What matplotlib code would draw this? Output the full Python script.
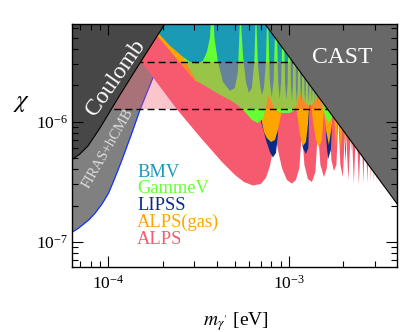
import numpy as np
import matplotlib
matplotlib.use('Agg')
import matplotlib.pyplot as plt
from matplotlib.ticker import LogLocator, NullFormatter

plt.rcParams['font.family'] = ['Liberation Serif', 'DejaVu Serif']
plt.rcParams['mathtext.fontset'] = 'stix'

# ---------------- data ----------------
xlim = (6.3e-5, 3.95e-3)
ylim = (6.2e-8, 6.5e-6)

coulomb_m = [5.40e-5, 6.34e-5, 6.97e-5, 7.72e-5, 9.00e-5, 1.161e-4, 1.498e-4, 2.059e-4, 2.339e-4]
coulomb_chi = [4.36e-7, 4.86e-7, 5.38e-7, 6.27e-7, 8.86e-7, 1.669e-6, 3.08e-6, 6.52e-6, 8.86e-6]

firas_m = [5.40e-5, 6.34e-5, 6.86e-5, 7.79e-5, 8.47e-5, 9.23e-5, 1.005e-4, 1.089e-4, 1.191e-4,
           1.352e-4, 1.498e-4, 1.739e-4, 1.932e-4, 2.196e-4, 2.493e-4]
firas_chi = [1.033e-7, 1.205e-7, 1.301e-7, 1.517e-7, 1.734e-7, 2.06e-7, 2.55e-7, 3.40e-7, 4.80e-7,
             8.05e-7, 1.252e-6, 2.184e-6, 3.27e-6, 5.28e-6, 8.53e-6]

cast_m = [5.0e-4, 5.0e-3]
cast_chi = [1.44e-5, 1.29e-7]

band_chi = [1.276e-6, 3.145e-6]

bmv_m = [1.498e-4, 1.701e-4, 1.932e-4, 2.196e-4, 2.591e-4, 2.833e-4, 3.096e-4, 3.343e-4, 3.517e-4,
         3.655e-4, 3.773e-4,
         3.871e-4, 4.047e-4, 4.313e-4, 4.716e-4, 5.027e-4, 5.223e-4, 5.330e-4, 5.392e-4,
         5.460e-4, 5.565e-4, 5.781e-4, 6.006e-4, 6.240e-4, 6.442e-4, 6.509e-4, 6.567e-4,
         6.634e-4, 6.737e-4, 6.955e-4, 7.089e-4, 7.272e-4, 7.460e-4, 7.546e-4, 7.603e-4,
         7.70e-4, 7.83e-4, 8.03e-4, 8.24e-4, 8.38e-4, 8.49e-4,
         8.59e-4, 8.72e-4, 8.89e-4, 9.06e-4, 9.20e-4, 9.30e-4,
         9.40e-4, 9.52e-4, 9.68e-4, 9.84e-4, 9.95e-4, 1.005e-3,
         1.014e-3, 1.026e-3, 1.039e-3, 1.052e-3, 1.065e-3, 1.074e-3,
         1.082e-3, 1.093e-3, 1.106e-3, 1.119e-3, 1.130e-3, 1.139e-3,
         1.146e-3, 1.158e-3, 1.170e-3, 1.182e-3, 1.194e-3, 1.2015e-3,
         1.209e-3, 1.218e-3, 1.229e-3, 1.240e-3, 1.251e-3, 1.259e-3,
         1.266e-3, 1.2755e-3, 1.287e-3, 1.2986e-3, 1.3085e-3, 1.315e-3,
         1.322e-3, 1.330e-3, 1.3405e-3, 1.351e-3, 1.361e-3, 1.368e-3,
         1.375e-3, 1.384e-3, 1.3927e-3, 1.4016e-3, 1.412e-3, 1.4195e-3,
         1.427e-3, 1.436e-3, 1.445e-3, 1.454e-3, 1.464e-3, 1.471e-3,
         1.477e-3, 1.486e-3, 1.494e-3, 1.501e-3, 1.513e-3, 1.519e-3,
         1.524e-3, 1.534e-3, 1.542e-3, 1.550e-3, 1.560e-3, 1.566e-3,
         4.2e-3]
bmv_chi = [1.517e-5, 6.77e-6, 5.28e-6, 4.28e-6, 3.46e-6, 3.145e-6, 3.03e-6, 3.21e-6, 3.81e-6,
           4.98e-6, 1.137e-5,
           4.98e-6, 3.145e-6, 2.143e-6, 1.802e-6, 1.910e-6, 2.60e-6, 5.81e-6, 1.137e-5,
           5.81e-6, 3.60e-6, 2.143e-6, 1.734e-6, 1.910e-6, 3.27e-6, 5.81e-6, 1.137e-5,
           5.81e-6, 2.97e-6, 1.910e-6, 1.669e-6, 1.910e-6, 3.145e-6, 5.81e-6, 1.137e-5,
           5.81e-6, 2.226e-6, 1.576e-6, 2.226e-6, 5.81e-6, 1.137e-5,
           5.81e-6, 2.143e-6, 1.546e-6, 2.143e-6, 5.81e-6, 1.137e-5,
           5.81e-6, 2.061e-6, 1.517e-6, 2.061e-6, 5.81e-6, 1.137e-5,
           5.81e-6, 1.984e-6, 1.488e-6, 1.984e-6, 5.81e-6, 1.137e-5,
           5.81e-6, 1.910e-6, 1.460e-6, 1.910e-6, 5.81e-6, 1.137e-5,
           5.81e-6, 1.910e-6, 1.460e-6, 1.910e-6, 5.81e-6, 1.137e-5,
           5.81e-6, 1.837e-6, 1.432e-6, 1.837e-6, 5.81e-6, 1.137e-5,
           5.81e-6, 1.837e-6, 1.432e-6, 1.837e-6, 5.81e-6, 1.137e-5,
           5.81e-6, 1.837e-6, 1.432e-6, 1.837e-6, 5.81e-6, 1.137e-5,
           5.81e-6, 1.768e-6, 1.405e-6, 1.768e-6, 5.81e-6, 1.137e-5,
           5.81e-6, 1.768e-6, 1.405e-6, 1.768e-6, 5.81e-6, 1.137e-5,
           5.81e-6, 1.768e-6, 1.405e-6, 1.768e-6, 5.81e-6, 1.137e-5,
           5.81e-6, 1.768e-6, 1.405e-6, 1.768e-6, 5.81e-6, 1.137e-5,
           1.137e-5]

gammev_m = [1.813e-4, 2.059e-4, 2.339e-4, 2.591e-4, 2.833e-4, 3.096e-4, 3.896e-4, 5.027e-4, 5.709e-4,
            6.240e-4, 6.737e-4, 7.180e-4, 7.460e-4, 7.653e-4, 7.952e-4, 8.368e-4, 9.150e-4, 1.0127e-3,
            1.0795e-3, 1.1217e-3, 1.1503e-3, 1.1952e-3, 1.2739e-3, 1.3576e-3, 1.4286e-3, 1.4656e-3,
            1.5227e-3, 1.6022e-3, 1.6645e-3, 1.7296e-3, 1.7970e-3, 1.8431e-3, 4.2e-3]
gammev_chi = [1.517e-5, 7.04e-6, 4.80e-6, 3.46e-6, 2.70e-6, 2.184e-6, 1.768e-6, 1.432e-6, 1.205e-6,
              1.033e-6, 9.75e-7, 1.053e-6, 1.301e-6, 1.669e-6, 1.517e-6, 1.252e-6, 1.182e-6, 1.182e-6,
              1.252e-6, 1.517e-6, 1.768e-6, 1.517e-6, 1.352e-6, 1.405e-6, 1.576e-6, 1.768e-6,
              1.378e-6, 1.074e-6, 9.75e-7, 1.074e-6, 1.517e-6, 1.837e-6, 1.837e-6]

lipss_m = [3.218e-4, 6.737e-4, 7.460e-4, 7.851e-4, 8.157e-4, 8.474e-4, 8.694e-4, 8.919e-4, 1.0388e-3,
           1.1503e-3, 1.1952e-3, 1.2417e-3, 1.2820e-3, 1.2984e-3, 1.3150e-3, 1.5708e-3, 1.6022e-3,
           1.6434e-3, 1.7077e-3, 1.7517e-3, 1.7743e-3, 1.9896e-3, 2.0543e-3, 2.1343e-3, 3.0183e-3,
           3.0687e-3, 3.1280e-3, 4.2e-3]
lipss_chi = [1.517e-5, 1.252e-6, 7.04e-7, 5.59e-7, 5.03e-7, 5.48e-7, 7.75e-7, 3.27e-6, 3.27e-6,
             8.53e-7, 6.04e-7, 5.38e-7, 6.04e-7, 1.517e-6, 3.27e-6, 3.27e-6, 7.75e-7,
             4.80e-7, 5.81e-7, 1.517e-6, 3.27e-6, 3.27e-6, 4.53e-7, 3.27e-6, 3.27e-6,
             4.19e-7, 3.27e-6, 3.27e-6]

alpsgas_m = [1.022e-4, 1.932e-4, 3.018e-4, 3.429e-4, 4.151e-4, 5.027e-4, 5.709e-4, 6.240e-4, 6.737e-4,
             6.914e-4, 7.089e-4, 7.272e-4, 7.556e-4, 7.952e-4, 8.368e-4, 8.694e-4, 9.033e-4, 9.266e-4,
             1.0522e-3, 1.1074e-3, 1.1503e-3, 1.1952e-3, 1.2417e-3, 1.2739e-3, 1.3066e-3, 1.3576e-3,
             1.4105e-3, 1.4656e-3, 1.5227e-3, 1.5619e-3, 1.6022e-3, 1.6645e-3, 1.7296e-3, 1.7630e-3,
             1.8197e-3, 1.8787e-3, 1.9396e-3, 1.9896e-3, 2.0543e-3, 2.1343e-3, 2.2169e-3, 2.2886e-3,
             2.3628e-3, 2.4395e-3, 2.5185e-3, 2.5836e-3, 2.6503e-3, 2.7185e-3, 2.7887e-3, 2.8426e-3,
             2.8975e-3, 2.9535e-3, 3.0183e-3, 3.0687e-3, 3.1280e-3, 3.1884e-3, 3.2500e-3, 3.3133e-3,
             4.2e-3]
alpsgas_chi = [1.517e-5, 4.89e-6, 2.184e-6, 2.022e-6, 1.734e-6, 1.517e-6, 1.460e-6, 1.517e-6, 1.837e-6,
               1.517e-6, 1.00e-6, 8.20e-7, 7.31e-7, 6.77e-7, 7.04e-7, 8.53e-7, 1.137e-6, 1.837e-6,
               1.837e-6, 1.205e-6, 7.75e-7, 6.27e-7, 6.77e-7, 9.39e-7, 1.669e-6, 1.033e-6,
               7.04e-7, 6.15e-7, 7.04e-7, 1.252e-6, 8.53e-7, 6.39e-7, 9.39e-7, 1.517e-6,
               6.04e-7, 1.252e-6, 5.81e-7, 1.252e-6, 5.81e-7, 1.252e-6, 5.59e-7, 1.252e-6,
               5.81e-7, 1.252e-6, 5.59e-7, 1.252e-6, 5.81e-7, 1.252e-6, 5.59e-7, 1.252e-6,
               5.81e-7, 1.252e-6, 5.59e-7, 1.252e-6, 5.81e-7, 1.252e-6, 5.59e-7, 1.252e-6,
               1.252e-6]

alps_m = [6.97e-5, 2.390e-4, 3.218e-4, 4.258e-4, 5.027e-4, 5.637e-4, 6.320e-4, 6.999e-4, 7.460e-4,
          7.851e-4, 8.157e-4, 8.421e-4, 8.694e-4, 9.150e-4, 9.748e-4, 1.0388e-3, 1.0934e-3, 1.1429e-3,
          1.1801e-3, 1.2183e-3, 1.2739e-3, 1.3405e-3, 1.4016e-3, 1.4471e-3, 1.4938e-3, 1.5619e-3,
          1.6227e-3, 1.6749e-3, 1.7185e-3, 1.7743e-3, 1.8315e-3, 1.8787e-3, 1.9272e-3, 1.9896e-3,
          2.0543e-3, 2.1343e-3, 2.2169e-3, 2.2886e-3, 2.3628e-3, 2.4395e-3, 2.5185e-3, 2.5836e-3,
          2.6503e-3, 2.7185e-3, 2.7887e-3, 2.8426e-3, 2.8975e-3, 2.9535e-3, 3.0183e-3, 3.0687e-3,
          3.1280e-3, 3.1884e-3, 3.2500e-3, 3.3133e-3, 3.3556e-3, 4.2e-3]
alps_chi = [1.517e-5, 1.276e-6, 7.46e-7, 4.62e-7, 3.60e-7, 3.145e-7, 2.94e-7, 3.03e-7, 3.40e-7,
            4.27e-7, 5.81e-7, 7.75e-7, 5.81e-7, 4.11e-7, 3.27e-7, 3.05e-7, 3.27e-7, 4.11e-7,
            8.53e-7, 4.36e-7, 3.33e-7, 3.145e-7, 3.81e-7, 8.53e-7, 4.36e-7, 3.46e-7,
            4.11e-7, 1.033e-6, 4.80e-7, 3.88e-7, 4.36e-7, 1.033e-6, 4.36e-7, 3.46e-7,
            1.033e-6, 3.27e-7, 1.033e-6, 3.08e-7, 1.033e-6, 2.97e-7, 1.033e-6, 3.08e-7,
            1.033e-6, 3.08e-7, 1.033e-6, 3.145e-7, 1.033e-6, 3.08e-7, 1.033e-6, 3.145e-7,
            1.033e-6, 3.08e-7, 1.033e-6, 3.08e-7, 1.033e-6, 1.033e-6]

legend_labels = ['BMV', 'GammeV', 'LIPSS', 'ALPS(gas)', 'ALPS']

# ---------------- styles ----------------
C_BMV = '#1b9ab6'
C_GAMMEV = '#66ff33'
C_LIPSS = '#0a2a8a'
C_ALPSGAS = '#ffa500'
C_ALPS = '#f65a6e'
C_COUL = '#474747'
C_CAST = '#686868'
C_FIRAS = '#808080'
TOP = 1e-4

fig = plt.figure(figsize=(4.02, 3.32), dpi=100)
ax = fig.add_axes([72/402, (332-266.7)/332, 324.7/402, 242.7/332])
ax.set_xscale('log')
ax.set_yscale('log')
ax.set_xlim(*xlim)
ax.set_ylim(*ylim)

def region(m, chi, color, z):
    xs = list(m) + [m[-1], m[0]]
    ys = list(chi) + [TOP, TOP]
    ax.fill(xs, ys, color=color, lw=0, zorder=z)

# FIRAS + hCMB
ax.fill(firas_m + [3e-4, 4e-5, 4e-5], firas_chi + [TOP, TOP, firas_chi[0]],
        color=C_FIRAS, lw=0, zorder=1.0)
ax.plot(firas_m, firas_chi, color='#1030ff', lw=0.9, zorder=1.05)

region(alps_m, alps_chi, C_ALPS, 1.1)
region(lipss_m, lipss_chi, C_LIPSS, 1.2)
region(alpsgas_m, alpsgas_chi, C_ALPSGAS, 1.3)
region(gammev_m, gammev_chi, C_GAMMEV, 1.4)
region(bmv_m, bmv_chi, C_BMV, 1.5)

# translucent band and dashed lines
ax.fill_between([4e-5, 5e-3], band_chi[0], band_chi[1], color=C_ALPS, alpha=0.35, lw=0, zorder=1.6)
for c in band_chi:
    ax.plot([4e-5, 5e-3], [c, c], color='k', lw=1.0, dashes=(5, 3), zorder=1.7)

# Coulomb
ax.fill(coulomb_m + [coulomb_m[-1], 4e-5, 4e-5], coulomb_chi + [TOP, TOP, coulomb_chi[0]],
        color=C_COUL, lw=0, zorder=1.8)
ax.plot(coulomb_m, coulomb_chi, color='k', lw=0.8, zorder=1.85)

# CAST
ax.fill(cast_m + [cast_m[1], cast_m[0]], cast_chi + [TOP, TOP], color=C_CAST, lw=0, zorder=1.8)
ax.plot(cast_m, cast_chi, color='k', lw=0.8, zorder=1.85)

# texts
ax.text(0.1355, 0.7775, 'Coulomb', transform=ax.transAxes, rotation=55, color='white',
        fontsize=17, ha='center', va='center', rotation_mode='anchor', zorder=3)
ax.text(0.111, 0.489, 'FIRAS+hCMB', transform=ax.transAxes, rotation=60, color='#dddddd',
        fontsize=10.5, ha='center', va='center', rotation_mode='anchor', zorder=3)
ax.text(0.8337, 0.862, 'CAST', transform=ax.transAxes, color='white',
        fontsize=17, ha='center', va='center', zorder=3)

leg_colors = [C_BMV, C_GAMMEV, C_LIPSS, C_ALPSGAS, C_ALPS]
leg_y = [0.371, 0.302, 0.234, 0.164, 0.0935]
for lab, col, yy in zip(legend_labels, leg_colors, leg_y):
    ax.text(0.201, yy, lab, transform=ax.transAxes, color=col, fontsize=13.3,
            ha='left', va='baseline', zorder=3)

# axes styling
ax.xaxis.set_major_locator(LogLocator(base=10, numticks=10))
ax.xaxis.set_minor_locator(LogLocator(base=10, subs=np.arange(2, 10), numticks=20))
ax.yaxis.set_major_locator(LogLocator(base=10, numticks=10))
ax.yaxis.set_minor_locator(LogLocator(base=10, subs=np.arange(2, 10), numticks=20))
ax.xaxis.set_minor_formatter(NullFormatter())
ax.yaxis.set_minor_formatter(NullFormatter())
ax.tick_params(which='both', direction='in', top=True, right=True, width=0.8, labelsize=12.5)
ax.tick_params(which='major', length=8, pad=6)
ax.tick_params(which='minor', length=4)
ax.tick_params(axis='y', pad=3)
for s in ax.spines.values():
    s.set_linewidth(1.0)
    s.set_zorder(5)
ax.xaxis.set_zorder(5)
ax.yaxis.set_zorder(5)

ax.set_xlabel(r'$m_{\gamma^{\prime}}$ [eV]', fontsize=14)
ax.xaxis.set_label_coords(0.505, -0.18)
ax.set_ylabel(r'$\chi$', fontsize=18, rotation=0, va='center')
ax.yaxis.set_label_coords(-0.154, 0.6745)

fig.savefig('out.png', dpi=100)
